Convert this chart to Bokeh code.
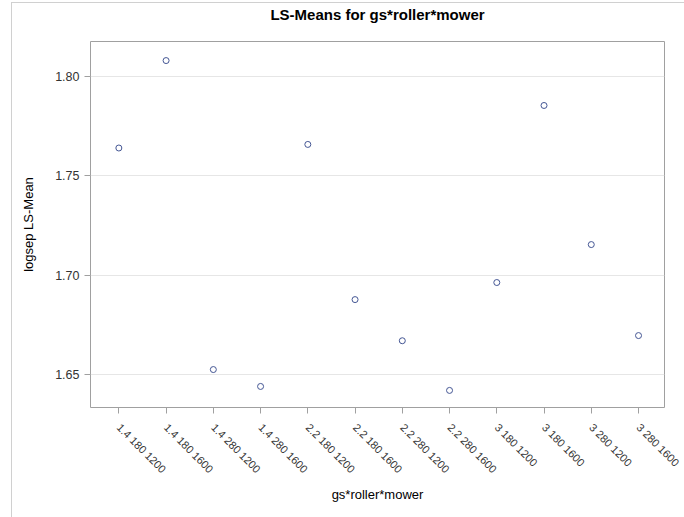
import math
from bokeh.plotting import figure
from bokeh.models import FixedTicker, Range1d, NumeralTickFormatter, Title
from bokeh.embed import file_html
from bokeh.resources import INLINE

labels = ["1.4 180 1200", "1.4 180 1600", "1.4 280 1200", "1.4 280 1600",
          "2.2 180 1200", "2.2 180 1600", "2.2 280 1200", "2.2 280 1600",
          "3 180 1200", "3 180 1600", "3 280 1200", "3 280 1600"]
means = [1.764, 1.808, 1.6525, 1.644, 1.7658, 1.6877, 1.667, 1.642,
         1.6963, 1.7854, 1.7154, 1.6696]
y_ticks = [1.65, 1.70, 1.75, 1.80]

xs = list(range(len(labels)))

FONT = "Liberation Sans"
p = figure(output_backend="svg", toolbar_location=None,
           frame_width=574, frame_height=366,
           min_border_left=78, min_border_top=30, min_border_right=20, min_border_bottom=110,
           x_range=Range1d(-0.6, 11.55), y_range=Range1d(1.6334, 1.8176),
           title="LS-Means for gs*roller*mower")

p.scatter(xs, means, marker="circle", size=6, fill_color=None,
          line_color="#445694", line_width=1)

p.title.align = "center"
p.title.text_font = FONT
p.title.text_font_size = "15px"
p.title.text_font_style = "bold"
p.title.text_color = "#000000"
p.title.standoff = 0

spacer = Title(text=" ", text_font_size="15px", standoff=0)
p.add_layout(spacer, "above")

p.outline_line_color = "#a0a0a0"
p.outline_line_width = 1

p.xgrid.grid_line_color = None
p.ygrid.grid_line_color = "#e6e6e6"
p.ygrid.ticker = FixedTicker(ticks=y_ticks)

p.xaxis.ticker = FixedTicker(ticks=xs)
p.xaxis.major_label_overrides = {i: l for i, l in enumerate(labels)}
p.xaxis.major_label_orientation = -math.pi / 4
p.xaxis.major_label_standoff = 12
p.xaxis.axis_label_standoff = 5
p.yaxis.ticker = FixedTicker(ticks=y_ticks)
p.yaxis.formatter = NumeralTickFormatter(format="0.00")
p.yaxis.axis_label_standoff = 16

for ax in (p.xaxis, p.yaxis):
    ax.axis_line_color = None
    ax.major_tick_line_color = "#a0a0a0"
    ax.major_tick_out = 6
    ax.major_tick_in = 0
    ax.minor_tick_line_color = None
    ax.major_label_text_font = FONT
    ax.major_label_text_color = "#333333"
    ax.axis_label_text_font = FONT
    ax.axis_label_text_font_size = "13px"
    ax.axis_label_text_font_style = "normal"
    ax.axis_label_text_color = "#000000"

p.yaxis.major_label_text_font_size = "12.5px"
p.xaxis.major_label_text_font_size = "11px"

p.xaxis.axis_label = "gs*roller*mower"
p.yaxis.axis_label = "logsep LS-Mean"

p.styles = {"border-top": "1px solid #d0d0d0", "border-left": "1px solid #d0d0d0",
            "margin-left": "11px", "margin-top": "2px"}

open("out.html", "w").write(file_html(p, INLINE))
